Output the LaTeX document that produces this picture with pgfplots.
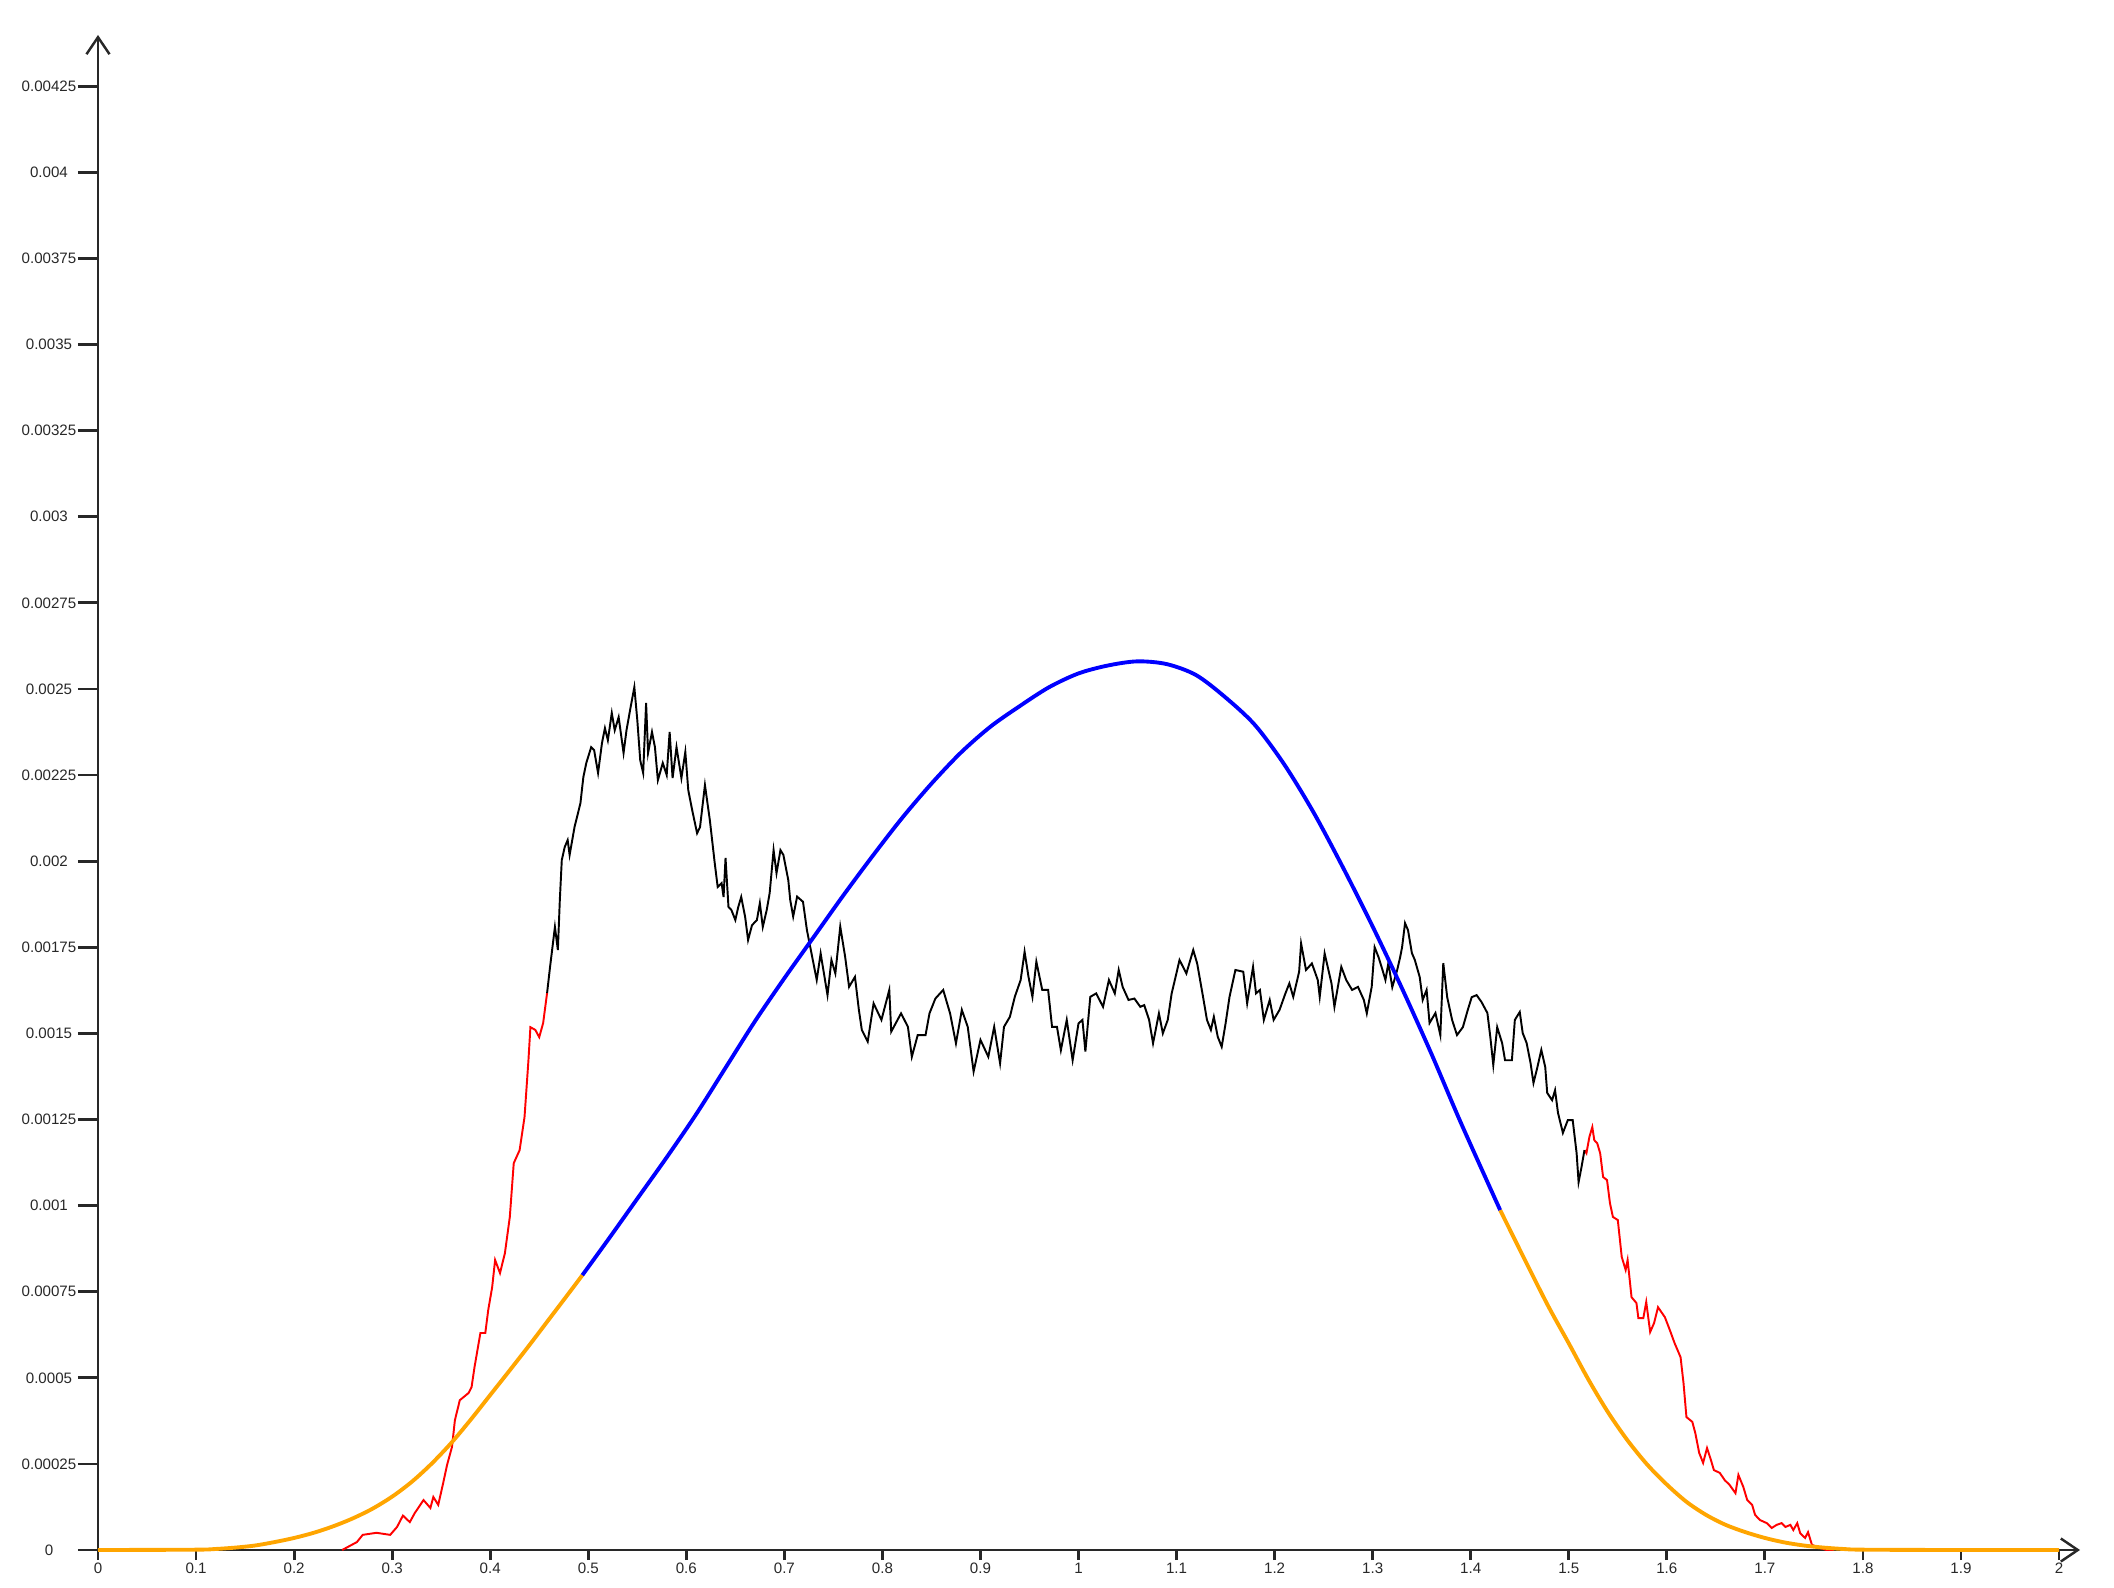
\documentclass[border=0pt]{standalone}
\usepackage{fontspec}
\setmainfont{Liberation Sans}
\usepackage{pgfplots}
\pgfplotsset{compat=1.18}
\usetikzlibrary{arrows.meta}
\definecolor{orng}{RGB}{255,165,0}
\definecolor{axgray}{RGB}{40,40,40}

\begin{document}
\begin{tikzpicture}
\useasboundingbox (-0.98cm,-0.37cm) rectangle (20.16cm,15.50cm);
\begin{axis}[
  scale only axis,
  width=19.82cm, height=15.15cm,
  xmin=0, xmax=2.0214, ymin=0, ymax=0.0043985,
  axis lines=left,
  axis line style={line width=0.8pt, axgray, -{Straight Barb[length=1.7mm,width=2.3mm,line width=0.7pt]}},
  tick align=outside,
  major tick length=0.2cm,
  tick style={line width=0.8pt, axgray},
  xtick style={/pgfplots/major tick length=0.1cm},
  xtick={0,0.1,0.2,0.3,0.4,0.5,0.6,0.7,0.8,0.9,1,1.1,1.2,1.3,1.4,1.5,1.6,1.7,1.8,1.9,2},
  xticklabels={0,0.1,0.2,0.3,0.4,0.5,0.6,0.7,0.8,0.9,1,1.1,1.2,1.3,1.4,1.5,1.6,1.7,1.8,1.9,2},
  ytick={0,0.00025,0.0005,0.00075,0.001,0.00125,0.0015,0.00175,0.002,0.00225,0.0025,0.00275,0.003,0.00325,0.0035,0.00375,0.004,0.00425},
  yticklabels={0,0.00025,0.0005,0.00075,0.001,0.00125,0.0015,0.00175,0.002,0.00225,0.0025,0.00275,0.003,0.00325,0.0035,0.00375,0.004,0.00425},
  tick label style={font=\fontsize{4.3}{5}\selectfont, text=axgray},
  yticklabel style={anchor=center, xshift=-0.29cm},
  xticklabel style={anchor=center, yshift=0.02cm},
  clip=false,
]
% noisy estimate, tails in red
\addplot[red, line width=0.55pt] coordinates {
(0.249,0) (0.264,0.000023) (0.270,0.000044) (0.284,0.000050) (0.298,0.000044)
(0.305,0.000067) (0.311,0.000100) (0.318,0.000081) (0.323,0.000107) (0.332,0.000145)
(0.339,0.000122) (0.342,0.000154) (0.347,0.000131) (0.352,0.000194) (0.356,0.000247)
(0.361,0.000299) (0.364,0.000377) (0.369,0.000435) (0.378,0.000456) (0.381,0.000473)
(0.384,0.000531) (0.390,0.000630) (0.395,0.000630) (0.398,0.000697) (0.402,0.000763)
(0.405,0.000842) (0.410,0.000804) (0.415,0.000862) (0.420,0.000967) (0.424,0.001123)
(0.430,0.001161) (0.435,0.001257) (0.439,0.001422) (0.441,0.001518) (0.446,0.001510)
(0.450,0.001489) (0.454,0.001530) (0.458,0.001617)
};
\addplot[red, line width=0.55pt] coordinates {
(1.516,0.001161) (1.518,0.001152) (1.521,0.001199) (1.524,0.001228) (1.526,0.001190)
(1.529,0.001181) (1.532,0.001152) (1.535,0.001083) (1.539,0.001074) (1.542,0.001007)
(1.545,0.000967) (1.550,0.000958) (1.554,0.000851) (1.558,0.000813) (1.560,0.000842)
(1.564,0.000734) (1.569,0.000717) (1.571,0.000673) (1.576,0.000673) (1.579,0.000720)
(1.583,0.000633) (1.587,0.000659) (1.591,0.000705) (1.598,0.000676) (1.603,0.000639)
(1.608,0.000600) (1.614,0.000560) (1.617,0.000485) (1.620,0.000386) (1.626,0.000372)
(1.629,0.000340) (1.633,0.000282) (1.637,0.000253) (1.641,0.000296) (1.645,0.000261)
(1.648,0.000232) (1.654,0.000224) (1.659,0.000203) (1.664,0.000189) (1.670,0.000165)
(1.673,0.000218) (1.678,0.000183) (1.682,0.000145) (1.687,0.000131) (1.690,0.000102)
(1.695,0.000087) (1.702,0.000078) (1.707,0.000064) (1.712,0.000073) (1.717,0.000078)
(1.721,0.000067) (1.726,0.000073) (1.729,0.000058) (1.733,0.000078) (1.736,0.000049)
(1.741,0.000035) (1.744,0.000052) (1.748,0.000015) (1.756,0.000006) (1.763,0) (1.770,0)
};
% noisy estimate, middle part in black
\addplot[black, line width=0.55pt] coordinates {
(0.458,0.001617) (0.461,0.001692) (0.464,0.001762) (0.466,0.001809) (0.469,0.001742)
(0.471,0.001887) (0.473,0.002003) (0.476,0.002041) (0.479,0.002061) (0.481,0.002018)
(0.486,0.002099) (0.492,0.002168) (0.495,0.002244) (0.498,0.002285) (0.503,0.002331)
(0.506,0.002322) (0.510,0.002256) (0.514,0.002343) (0.517,0.002386) (0.520,0.002351)
(0.524,0.002430) (0.527,0.002380) (0.531,0.002418) (0.536,0.002314) (0.539,0.002380)
(0.543,0.002444) (0.547,0.002505) (0.550,0.002410) (0.553,0.002293) (0.556,0.002256)
(0.559,0.002459) (0.561,0.002314) (0.565,0.002375) (0.568,0.002331) (0.571,0.002235)
(0.576,0.002285) (0.580,0.002250) (0.583,0.002375) (0.586,0.002241) (0.590,0.002331)
(0.595,0.002241) (0.599,0.002317) (0.602,0.002206) (0.606,0.002148) (0.611,0.002081)
(0.614,0.002099) (0.619,0.002221) (0.624,0.002119) (0.629,0.001994) (0.632,0.001925)
(0.636,0.001936) (0.638,0.001896) (0.640,0.002009) (0.643,0.001867) (0.646,0.001858)
(0.650,0.001829) (0.653,0.001867) (0.656,0.001896) (0.660,0.001838) (0.663,0.001771)
(0.667,0.001814) (0.672,0.001829) (0.675,0.001878) (0.678,0.001809) (0.682,0.001858)
(0.685,0.001907) (0.689,0.002032) (0.692,0.001965) (0.696,0.002032) (0.699,0.002018)
(0.704,0.001945) (0.706,0.001887) (0.709,0.001839) (0.713,0.001897) (0.719,0.001882)
(0.723,0.001800) (0.729,0.001713) (0.733,0.001655) (0.737,0.001732) (0.744,0.001611)
(0.748,0.001713) (0.752,0.001674) (0.757,0.001810) (0.762,0.001722) (0.766,0.001635)
(0.772,0.001664) (0.776,0.001568) (0.779,0.001510) (0.785,0.001476) (0.791,0.001587)
(0.799,0.001539) (0.807,0.001626) (0.809,0.001505) (0.819,0.001558) (0.826,0.001519)
(0.830,0.001432) (0.836,0.001495) (0.844,0.001495) (0.848,0.001558) (0.854,0.001601)
(0.862,0.001626) (0.869,0.001558) (0.875,0.001471) (0.881,0.001568) (0.887,0.001519)
(0.893,0.001389) (0.900,0.001481) (0.908,0.001432) (0.914,0.001519) (0.920,0.001413)
(0.924,0.001519) (0.930,0.001548) (0.935,0.001606) (0.941,0.001655) (0.945,0.001737)
(0.949,0.001664) (0.953,0.001606) (0.957,0.001708) (0.963,0.001626) (0.969,0.001626)
(0.973,0.001519) (0.978,0.001519) (0.982,0.001451) (0.988,0.001539) (0.994,0.001422)
(1.000,0.001529) (1.004,0.001539) (1.007,0.001447) (1.012,0.001606) (1.018,0.001616)
(1.025,0.001577) (1.031,0.001655) (1.037,0.001616) (1.041,0.001684) (1.045,0.001635)
(1.051,0.001597) (1.057,0.001601) (1.063,0.001577) (1.067,0.001582) (1.072,0.001539)
(1.076,0.001471) (1.082,0.001558) (1.086,0.001500) (1.091,0.001539) (1.095,0.001616)
(1.099,0.001664) (1.103,0.001713) (1.110,0.001674) (1.117,0.001742) (1.121,0.001703)
(1.127,0.001606) (1.131,0.001539) (1.135,0.001510) (1.138,0.001548) (1.142,0.001490)
(1.146,0.001461) (1.150,0.001529) (1.154,0.001606) (1.160,0.001684) (1.168,0.001679)
(1.172,0.001587) (1.178,0.001693) (1.181,0.001616) (1.185,0.001626) (1.189,0.001539)
(1.195,0.001597) (1.199,0.001539) (1.205,0.001568) (1.211,0.001616) (1.215,0.001645)
(1.219,0.001606) (1.225,0.001679) (1.227,0.001761) (1.232,0.001684) (1.238,0.001703)
(1.244,0.001655) (1.246,0.001606) (1.251,0.001732) (1.258,0.001645) (1.261,0.001577)
(1.268,0.001693) (1.273,0.001655) (1.279,0.001626) (1.285,0.001635) (1.291,0.001597)
(1.294,0.001558) (1.299,0.001635) (1.302,0.001750) (1.306,0.001721) (1.310,0.001684)
(1.313,0.001655) (1.316,0.001704) (1.320,0.001634) (1.325,0.001684) (1.328,0.001721)
(1.330,0.001750) (1.333,0.001820) (1.336,0.001800) (1.340,0.001733) (1.343,0.001713)
(1.348,0.001663) (1.351,0.001597) (1.355,0.001626) (1.358,0.001530) (1.364,0.001559)
(1.369,0.001495) (1.372,0.001704) (1.376,0.001605) (1.381,0.001539) (1.386,0.001495)
(1.392,0.001518) (1.397,0.001568) (1.401,0.001605) (1.406,0.001611) (1.411,0.001591)
(1.417,0.001559) (1.420,0.001489) (1.423,0.001408) (1.427,0.001518) (1.432,0.001472)
(1.435,0.001422) (1.442,0.001422) (1.445,0.001539) (1.450,0.001562) (1.453,0.001501)
(1.457,0.001472) (1.461,0.001414) (1.464,0.001356) (1.468,0.001402) (1.472,0.001452)
(1.476,0.001402) (1.478,0.001327) (1.483,0.001306) (1.486,0.001335) (1.489,0.001269)
(1.494,0.001211) (1.499,0.001248) (1.504,0.001248) (1.508,0.001152) (1.510,0.001068)
(1.513,0.001112) (1.516,0.001161)
};
% smooth curve, tails in orange
\addplot[orng, line width=1.1pt, smooth] coordinates {
(0,0) (0.10,0.000001) (0.12,0.000003) (0.14,0.000007) (0.16,0.000013) (0.18,0.000023)
(0.20,0.000035) (0.22,0.000050) (0.24,0.000069) (0.26,0.000092) (0.28,0.000120)
(0.30,0.000155) (0.32,0.000198) (0.34,0.000250) (0.36,0.000310) (0.38,0.000378)
(0.40,0.000450) (0.42,0.000522) (0.44,0.000595) (0.46,0.000670) (0.48,0.000745)
(0.494,0.000798)
};
\addplot[orng, line width=1.1pt, smooth] coordinates {
(1.43,0.000987) (1.46,0.000815) (1.48,0.000703) (1.50,0.000600) (1.52,0.000495)
(1.54,0.000400) (1.56,0.000318) (1.58,0.000248) (1.60,0.000190) (1.62,0.000140)
(1.64,0.000102) (1.66,0.000073) (1.68,0.000052) (1.70,0.000035) (1.72,0.000022)
(1.74,0.000013) (1.76,0.000007) (1.78,0.000003) (1.80,0.000001) (1.90,0) (2.00,0)
};
% smooth curve, middle in blue
\addplot[blue, line width=1.1pt, smooth] coordinates {
(0.494,0.000798) (0.52,0.000900) (0.55,0.001020) (0.58,0.001140) (0.61,0.001265)
(0.64,0.001400) (0.67,0.001535) (0.70,0.001660) (0.73,0.001780) (0.76,0.001900)
(0.79,0.002015) (0.82,0.002125) (0.85,0.002225) (0.88,0.002315) (0.91,0.002390)
(0.94,0.002450) (0.97,0.002505) (1.00,0.002545) (1.03,0.002568) (1.06,0.002580)
(1.09,0.002572) (1.12,0.002540) (1.15,0.002475) (1.18,0.002395) (1.21,0.002280)
(1.24,0.002140) (1.27,0.001980) (1.30,0.001810) (1.33,0.001630) (1.36,0.001440)
(1.39,0.001240) (1.43,0.000987)
};
\end{axis}
\end{tikzpicture}
\end{document}
